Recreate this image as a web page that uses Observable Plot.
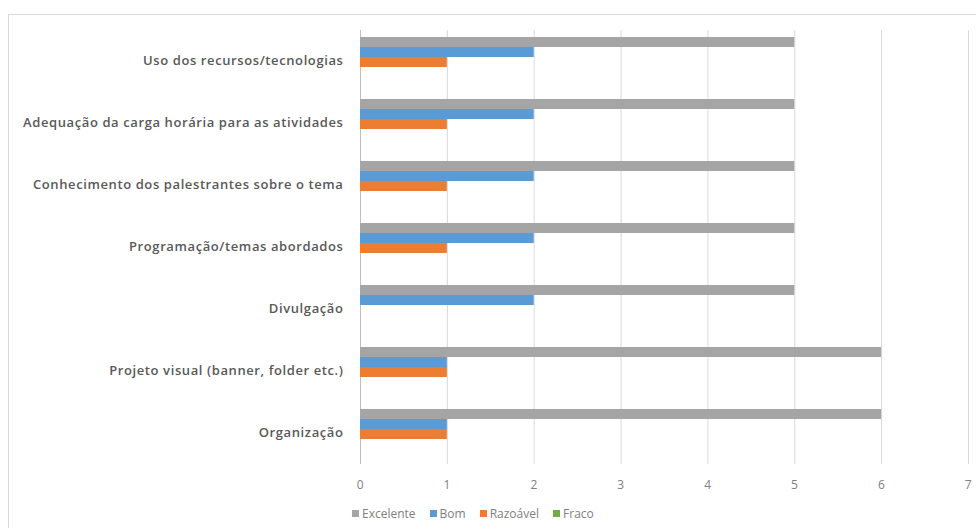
<!DOCTYPE html>
<html>
<head>
<meta charset="utf-8">
<script src="https://cdn.jsdelivr.net/npm/d3@7"></script>
<script src="https://cdn.jsdelivr.net/npm/@observablehq/plot@0.6"></script>
<style>
  html, body { margin: 0; padding: 0; background: #fff; overflow: hidden; }
  #wrap { position: relative; width: 976px; height: 528px; }
  #frame { position: absolute; left: 8px; top: 14px; width: 1000px; height: 600px; border: 1px solid #d9d9d9; box-sizing: border-box; }
  #chart { position: absolute; left: 0; top: 0; }
  #chart svg { letter-spacing: 0.6px; }
  #legend { position: absolute; left: 352px; top: 505px; font-family: "Open Sans", sans-serif; font-size: 12px; color: #7f7f7f; display: flex; }
  #legend span.item { display: inline-flex; align-items: center; margin-right: 14px; }
  #legend span.sw { width: 7px; height: 7px; display: inline-block; margin-right: 3px; }
</style>
</head>
<body>
<div id="wrap">
  <div id="frame"></div>
  <div id="chart"></div>
  <div id="legend"></div>
</div>
<script>
const categories = [
  "Uso dos recursos/tecnologias",
  "Adequação da carga horária para as atividades",
  "Conhecimento dos palestrantes sobre o tema",
  "Programação/temas abordados",
  "Divulgação",
  "Projeto visual (banner, folder etc.)",
  "Organização"
];
const series = ["Excelente", "Bom", "Razoável", "Fraco"];
const excelente = [5, 5, 5, 5, 5, 6, 6];
const bom = [2, 2, 2, 2, 2, 1, 1];
const razoavel = [1, 1, 1, 1, 0, 1, 1];
const fraco = [0, 0, 0, 0, 0, 0, 0];
const xTicks = [0, 1, 2, 3, 4, 5, 6, 7];
const colors = ["#A5A5A5", "#5B9BD5", "#ED7D31", "#70AD47"];

const valuesBySeries = [excelente, bom, razoavel, fraco];
const data = categories.flatMap((c, i) =>
  series.map((s, j) => ({category: c, series: s, value: valuesBySeries[j][i]}))
);

const chart = Plot.plot({
  width: 976,
  height: 495,
  marginLeft: 360,
  marginRight: 8,
  marginTop: 29,
  marginBottom: 30,
  style: {fontFamily: "'Open Sans', sans-serif", fontSize: "12px", color: "#595959", background: "transparent"},
  x: {domain: [0, 7], ticks: xTicks, tickFormat: d3.format("d"), tickSize: 0, tickPadding: 16, label: null, grid: false},
  y: {domain: series, axis: null, paddingInner: 0, paddingOuter: 0.85, align: 0.32},
  fy: {domain: categories, padding: 0, label: null, tickSize: 0, tickPadding: 17},
  color: {domain: series, range: colors},
  marks: [
    Plot.gridX(xTicks.filter(d => d > 0), {stroke: "#d9d9d9", strokeOpacity: 1}),
    Plot.ruleX([0], {stroke: "#bfbfbf"}),
    Plot.barX(data, {x: "value", y: "series", fy: "category", fill: "series"}),
    Plot.axisX({ticks: xTicks, tickFormat: d3.format("d"), tickSize: 0, tickPadding: 16, label: null, color: "#7f7f7f", fontSize: 12}),
    Plot.axisFy({anchor: "left", tickSize: 0, tickPadding: 17, label: null, fontSize: 13, fontWeight: 600, color: "#595959", dy: -1})
  ]
});
document.getElementById("chart").appendChild(chart);

const legend = document.getElementById("legend");
series.forEach((s, i) => {
  const item = document.createElement("span");
  item.className = "item";
  const sw = document.createElement("span");
  sw.className = "sw";
  sw.style.background = colors[i];
  item.appendChild(sw);
  item.appendChild(document.createTextNode(s));
  legend.appendChild(item);
});
</script>
</body>
</html>
